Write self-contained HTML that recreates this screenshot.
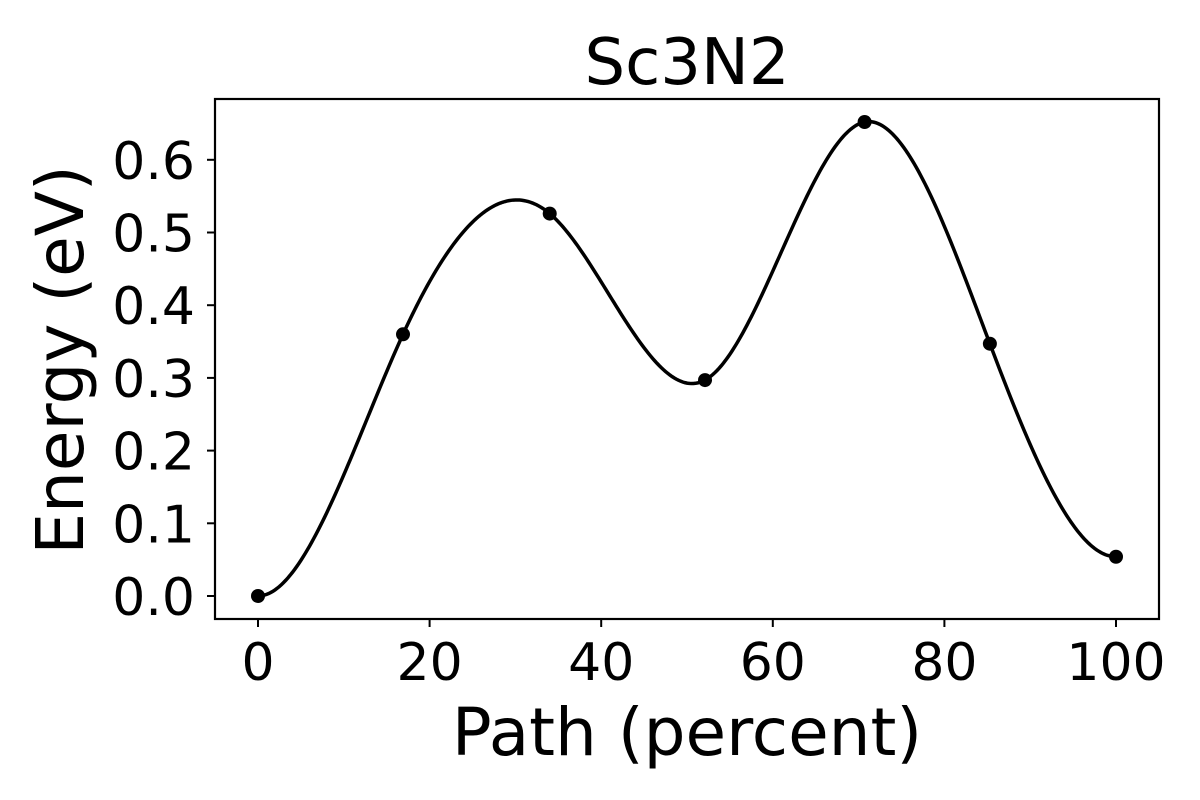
<!DOCTYPE html>
<html><head><meta charset="utf-8"><style>
body{margin:0;background:#fff;}
svg{display:block;font-family:"DejaVu Sans","Liberation Sans",sans-serif;}
</style></head><body>
<svg id="chart" width="1200" height="800" viewBox="0 0 1200 800">
<text x="687" y="84" font-size="64" text-anchor="middle">Sc3N2</text>
<g id="ticks"></g>
<path id="curve" fill="none" stroke="#000" stroke-width="3.5"/>
<g id="points"></g>
<rect x="215" y="99" width="944" height="520" fill="none" stroke="#000" stroke-width="2.2"/>
<text x="687" y="755" font-size="66" text-anchor="middle">Path (percent)</text>
<text transform="translate(83,360) rotate(-90)" font-size="66" text-anchor="middle">Energy (eV)</text>
</svg>
<script>
const pathPct = [0, 16.9, 34.0, 52.1, 70.7, 85.3, 100];
const energy = [0, 0.360, 0.526, 0.297, 0.652, 0.347, 0.054];
const xTicks = [0, 20, 40, 60, 80, 100];
const yTicks = [0.0, 0.1, 0.2, 0.3, 0.4, 0.5, 0.6];
const yTickLabels = ["0.0","0.1","0.2","0.3","0.4","0.5","0.6"];

const X = v => 258 + v * 8.58;
const Y = v => 596 - v * 727;
const NS = "http://www.w3.org/2000/svg";
const tg = document.getElementById('ticks');
xTicks.forEach(t => {
  const l = document.createElementNS(NS, 'line');
  
  
  l.setAttribute('x1', X(t)); l.setAttribute('x2', X(t));
  l.setAttribute('y1', 619); l.setAttribute('y2', 627);
  l.setAttribute('stroke', '#000'); l.setAttribute('stroke-width', 2);
  tg.appendChild(l);
  const tx = document.createElementNS(NS, 'text');
  
  
  tx.setAttribute('x', X(t)); tx.setAttribute('y', 680);
  tx.setAttribute('font-size', 52); tx.setAttribute('text-anchor', 'middle');
  tx.textContent = t;
  tg.appendChild(tx);
});
yTicks.forEach((t, i) => {
  const l = document.createElementNS(NS, 'line');
  
  
  l.setAttribute('x1', 207); l.setAttribute('x2', 215);
  l.setAttribute('y1', Y(t)); l.setAttribute('y2', Y(t));
  l.setAttribute('stroke', '#000'); l.setAttribute('stroke-width', 2);
  tg.appendChild(l);
  const tx = document.createElementNS(NS, 'text');
  
  
  tx.setAttribute('x', 195); tx.setAttribute('y', Y(t) + 19);
  tx.setAttribute('font-size', 52); tx.setAttribute('text-anchor', 'end');
  tx.textContent = yTickLabels[i];
  tg.appendChild(tx);
});

// clamped cubic spline (zero slope at ends)
function spline(xs, ys) {
  const n = xs.length, h = [], a = [], l = [], mu = [], z = [], c = [], b = [], d = [];
  for (let i = 0; i < n - 1; i++) h[i] = xs[i+1] - xs[i];
  a[0] = 3 * (ys[1] - ys[0]) / h[0];
  a[n-1] = -3 * (ys[n-1] - ys[n-2]) / h[n-2];
  for (let i = 1; i < n - 1; i++) a[i] = 3/h[i]*(ys[i+1]-ys[i]) - 3/h[i-1]*(ys[i]-ys[i-1]);
  l[0] = 2*h[0]; mu[0] = 0.5; z[0] = a[0]/l[0];
  for (let i = 1; i < n - 1; i++) { l[i] = 2*(xs[i+1]-xs[i-1]) - h[i-1]*mu[i-1]; mu[i] = h[i]/l[i]; z[i] = (a[i]-h[i-1]*z[i-1])/l[i]; }
  l[n-1] = h[n-2]*(2 - mu[n-2]); z[n-1] = (a[n-1]-h[n-2]*z[n-2])/l[n-1]; c[n-1] = z[n-1];
  for (let j = n - 2; j >= 0; j--) { c[j] = z[j] - mu[j]*c[j+1]; b[j] = (ys[j+1]-ys[j])/h[j] - h[j]*(c[j+1]+2*c[j])/3; d[j] = (c[j+1]-c[j])/(3*h[j]); }
  return x => { let i = 0; while (i < n - 2 && x > xs[i+1]) i++; const t = x - xs[i]; return ys[i] + b[i]*t + c[i]*t*t + d[i]*t*t*t; };
}
const f = spline(pathPct, energy);
let dstr = '';
for (let k = 0; k <= 400; k++) {
  const xv = pathPct[0] + (pathPct[pathPct.length-1] - pathPct[0]) * k / 400;
  dstr += (k ? 'L' : 'M') + X(xv).toFixed(2) + ' ' + Y(f(xv)).toFixed(2);
}
document.getElementById('curve').setAttribute('d', dstr);
const pg = document.getElementById('points');
pathPct.forEach((p, i) => {
  const c = document.createElementNS(NS, 'circle');
  
  
  c.setAttribute('cx', X(p)); c.setAttribute('cy', Y(energy[i])); c.setAttribute('r', 7);
  pg.appendChild(c);
});
</script>
</body></html>
